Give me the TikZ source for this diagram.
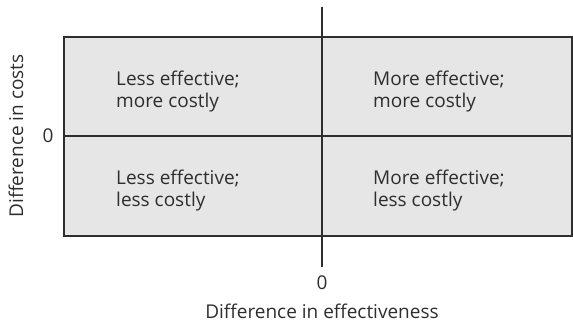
\documentclass[tikz,border=0pt]{standalone}
\usepackage{fontspec}
\setmainfont{Open Sans}
\usetikzlibrary{positioning}
\definecolor{ink}{HTML}{2E2E2E}
\definecolor{panel}{HTML}{E6E6E6}

\begin{document}
\begin{tikzpicture}[
  x=1pt,y=1pt,
  quadrant/.style={align=left,anchor=north west,inner sep=0pt,text=ink,font=\fontsize{19}{22}\selectfont},
  label/.style={inner sep=0pt,text=ink,font=\fontsize{19}{22}\selectfont},
  axis/.style={line width=1.4pt,draw=ink}
]
  \useasboundingbox (0,0) rectangle (573,322);
  % panel and axes
  \draw[axis,fill=panel] (64,86) rectangle (572,285);
  \coordinate (ytop) at (322,315);
  \coordinate (ybot) at (322,55);
  \coordinate (xleft) at (64,186);
  \coordinate (xright) at (572,186);
  \draw[axis] (xleft) -- (xright);
  \draw[axis] (ytop) -- (ybot);

  \node[quadrant] (LM) at (116,251) {Less effective;\\more costly};
  \node[quadrant] (MM) at (373,251) {More effective;\\more costly};
  \node[quadrant] (LL) at (116,152) {Less effective;\\less costly};
  \node[quadrant] (ML) at (373,152) {More effective;\\less costly};

  \node[label] (zeroy) at (48,186) {0};
  \node[label] (zerox) at (322,39) {0};
  \node[label] (xlab) at (322,11) {Difference in effectiveness};
  \node[label,rotate=90] (ylab) at (16,186) {Difference in costs};
\end{tikzpicture}
\end{document}
